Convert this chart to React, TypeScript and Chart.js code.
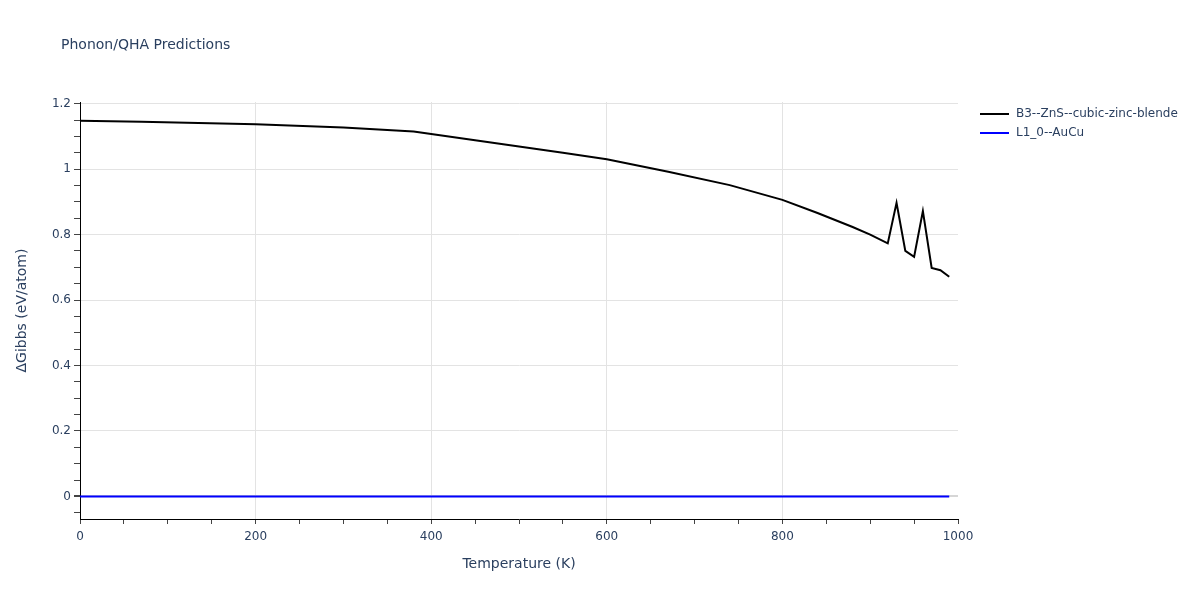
import React, { useEffect, useRef } from "react";
import { Chart, registerables } from "chart.js";

Chart.register(...registerables);

const temperatures = [0, 70, 200, 300, 380, 400, 450, 500, 550, 600, 670, 740, 800, 840, 880, 900, 920, 930, 940, 950, 960, 970, 980, 990];
const b3Gibbs = [1.148, 1.145, 1.137, 1.127, 1.115, 1.107, 1.088, 1.069, 1.05, 1.03, 0.992, 0.951, 0.906, 0.866, 0.823, 0.8, 0.773, 0.897, 0.75, 0.732, 0.872, 0.698, 0.691, 0.671];
const l10Gibbs = [0, 0, 0, 0, 0, 0, 0, 0, 0, 0, 0, 0, 0, 0, 0, 0, 0, 0, 0, 0, 0, 0, 0, 0];

const seriesNames = ["B3--ZnS--cubic-zinc-blende", "L1_0--AuCu"];
const seriesColors = ["#000000", "#0000ff"];
const chartTitle = "Phonon/QHA Predictions";
const xTitle = "Temperature (K)";
const yTitle = "ΔGibbs (eV/atom)";

const FONT = "'DejaVu Sans', Verdana, sans-serif";
const TEXT = "#2a3f5f";

const isMultiple = (v: number, step: number) => Math.abs(v / step - Math.round(v / step)) < 1e-6;

const overlayPlugin = {
  id: "overlay",
  afterDraw(chart: any) {
    const ctx = chart.ctx;
    ctx.save();
    ctx.fillStyle = TEXT;
    ctx.font = `14px ${FONT}`;
    ctx.textBaseline = "middle";
    ctx.textAlign = "left";
    ctx.fillText(chartTitle, 61, 45);
    ctx.font = `12px ${FONT}`;
    seriesNames.forEach((name, i) => {
      const y = 114 + i * 19;
      ctx.strokeStyle = seriesColors[i];
      ctx.lineWidth = 2;
      ctx.beginPath();
      ctx.moveTo(980, y);
      ctx.lineTo(1009, y);
      ctx.stroke();
      ctx.fillStyle = TEXT;
      ctx.fillText(name, 1016, y);
    });
    ctx.restore();
  },
};

export default function App() {
  const ref = useRef<HTMLCanvasElement | null>(null);
  useEffect(() => {
    if (!ref.current) return;
    const chart = new Chart(ref.current, {
      type: "line",
      data: {
        datasets: [
          {
            label: seriesNames[0],
            data: temperatures.map((t, i) => ({ x: t, y: b3Gibbs[i] })),
            borderColor: seriesColors[0],
            backgroundColor: seriesColors[0],
            borderWidth: 2,
            pointRadius: 0,
            tension: 0,
          },
          {
            label: seriesNames[1],
            data: temperatures.map((t, i) => ({ x: t, y: l10Gibbs[i] })),
            borderColor: seriesColors[1],
            backgroundColor: seriesColors[1],
            borderWidth: 2,
            pointRadius: 0,
            tension: 0,
          },
        ],
      },
      options: {
        responsive: false,
        animation: false,
        layout: { padding: { top: 102, right: 242, left: 0, bottom: 0 } },
        plugins: {
          legend: { display: false },
          title: { display: false },
          tooltip: { enabled: false },
        },
        scales: {
          x: {
            type: "linear",
            min: 0,
            max: 1000,
            afterFit: (s: any) => {
              s.height = 81;
            },
            border: { display: true, color: "#000000", width: 1 },
            grid: {
              color: (c: any) => {
                const v = c.tick ? c.tick.value : 0;
                if (v === 0 || v === 1000) return "rgba(0,0,0,0)";
                return isMultiple(v, 200) ? "#e3e3e3" : "rgba(0,0,0,0)";
              },
              tickColor: "#444444",
              tickLength: 5,
              drawTicks: true,
            },
            ticks: {
              stepSize: 50,
              includeBounds: false,
              autoSkip: false,
              maxRotation: 0,
              padding: 6,
              color: TEXT,
              font: { family: FONT, size: 12 },
              callback: (v: any) => (isMultiple(Number(v), 200) ? String(Math.round(Number(v))) : ""),
            },
            title: {
              display: true,
              text: xTitle,
              color: TEXT,
              font: { family: FONT, size: 14 },
              padding: { top: 0, bottom: 27 },
            },
          },
          y: {
            type: "linear",
            min: -0.069,
            max: 1.205,
            afterFit: (s: any) => {
              s.width = 80;
            },
            border: { display: true, color: "#000000", width: 1 },
            grid: {
              color: (c: any) => {
                const v = c.tick ? c.tick.value : 0;
                if (Math.abs(v) < 1e-6) return "#d6d6d6";
                return isMultiple(v, 0.2) ? "#e3e3e3" : "rgba(0,0,0,0)";
              },
              lineWidth: (c: any) => {
                const v = c.tick ? c.tick.value : 1;
                return Math.abs(v) < 1e-6 ? 2 : 1;
              },
              tickColor: "#444444",
              tickLength: 6,
              drawTicks: true,
            },
            ticks: {
              stepSize: 0.05,
              includeBounds: false,
              autoSkip: false,
              padding: 3,
              color: TEXT,
              font: { family: FONT, size: 12 },
              callback: (v: any) => {
                const n = Number(v);
                if (!isMultiple(n, 0.2)) return "";
                const r = Math.round(n * 10) / 10;
                return String(r);
              },
            },
            title: {
              display: true,
              text: yTitle,
              color: TEXT,
              font: { family: FONT, size: 14 },
              padding: { top: 14, bottom: 0 },
            },
          },
        },
      },
      plugins: [overlayPlugin],
    } as any);
    return () => chart.destroy();
  }, []);
  return (
    <div style={{ position: "absolute", left: 0, top: 0, width: 1200, height: 600, background: "#fff" }}>
      <canvas ref={ref} width={1200} height={600} />
    </div>
  );
}
